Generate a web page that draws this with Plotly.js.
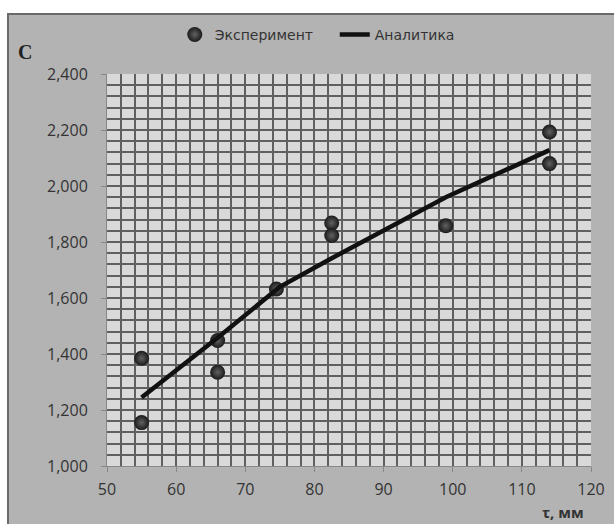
<!DOCTYPE html>
<html>
<head>
<meta charset="utf-8">
<script src="https://cdn.plot.ly/plotly-3.0.1.min.js"></script>
<style>
html,body{margin:0;padding:0;background:#ffffff;overflow:hidden;}
#chart{position:absolute;left:7px;top:13px;width:605px;height:509px;border-left:2px solid #6a6a6a;border-top:2px solid #6a6a6a;}
</style>
</head>
<body>
<div id="chart"></div>
<script>
// Experimental points
var expX = [55, 55, 66, 66, 74.5, 82.5, 82.5, 99, 114, 114];
var expY = [1385, 1155, 1448, 1335, 1632, 1868, 1823, 1858, 2193, 2080];
// Analytic curve
var anaX = [55, 66, 75, 82.5, 99, 114];
var anaY = [1245, 1458, 1640, 1742, 1960, 2128];
var xTicks = [50, 60, 70, 80, 90, 100, 110, 120];
var yTicks = [1000, 1200, 1400, 1600, 1800, 2000, 2200, 2400];
var seriesNames = ['Эксперимент', 'Аналитика'];
var xTitle = 'τ, мм';
var yTitle = 'C';

var traces = [
  {
    x: expX, y: expY, type: 'scatter', mode: 'markers', name: seriesNames[0],
    marker: {size: 15, color: '#1a1a1a', gradient: {type: 'radial', color: '#626262'}, line: {width: 0}},
    cliponaxis: false
  },
  {
    x: anaX, y: anaY, type: 'scatter', mode: 'lines', name: seriesNames[1],
    line: {color: '#111111', width: 4.5}
  }
];

var gridC = '#606060';
var layout = {
  width: 605, height: 509,
  margin: {l: 98, r: 23, t: 59, b: 58},
  paper_bgcolor: '#b3b3b3',
  plot_bgcolor: '#d9d9d9',
  font: {family: 'Open Sans, sans-serif', color: '#333333', size: 14},
  showlegend: true,
  legend: {
    orientation: 'h', xref: 'container', yref: 'container',
    x: 0.274, xanchor: 'left', y: 0.961, yanchor: 'middle',
    entrywidth: 115, entrywidthmode: 'pixels',
    bgcolor: 'rgba(0,0,0,0)', font: {family: 'DejaVu Sans, sans-serif', size: 14, color: '#333333'},
    traceorder: 'normal'
  },
  xaxis: {
    range: [xTicks[0], xTicks[xTicks.length - 1]],
    tickmode: 'linear', tick0: xTicks[0], dtick: xTicks[1] - xTicks[0],
    showgrid: true, gridcolor: gridC, gridwidth: 2,
    minor: {tickmode: 'linear', tick0: xTicks[0], dtick: 2, showgrid: true, gridcolor: gridC, gridwidth: 2, ticks: ''},
    ticks: 'outside', ticklen: 5, tickcolor: '#888888', ticklabelstandoff: 4,
    showline: true, linecolor: '#888888', linewidth: 1,
    zeroline: false, tickfont: {size: 16, color: '#333333'}, fixedrange: true
  },
  yaxis: {
    range: [yTicks[0], yTicks[yTicks.length - 1]],
    tickmode: 'linear', tick0: yTicks[0], dtick: yTicks[1] - yTicks[0], tickformat: ',d',
    showgrid: true, gridcolor: gridC, gridwidth: 2,
    minor: {tickmode: 'linear', tick0: yTicks[0], dtick: 40, showgrid: true, gridcolor: gridC, gridwidth: 2, ticks: ''},
    ticks: 'outside', ticklen: 5, tickcolor: '#888888', ticklabelstandoff: 10,
    showline: true, linecolor: '#888888', linewidth: 1,
    zeroline: false, tickfont: {size: 16, color: '#333333'}, fixedrange: true
  },
  annotations: [
    {text: '<b>' + yTitle + '</b>', xref: 'paper', yref: 'paper', x: -0.17, y: 1.057, xanchor: 'center', yanchor: 'middle',
     showarrow: false, font: {family: 'Liberation Serif, serif', size: 20, color: '#222222'}},
    {text: '<b>' + xTitle + '</b>', xref: 'paper', yref: 'paper', x: 0.99, y: -0.117, xanchor: 'right', yanchor: 'middle',
     showarrow: false, font: {family: 'Open Sans, sans-serif', size: 15, color: '#333333'}}
  ]
};

Plotly.newPlot('chart', traces, layout, {displayModeBar: false, staticPlot: true});
</script>
</body>
</html>
